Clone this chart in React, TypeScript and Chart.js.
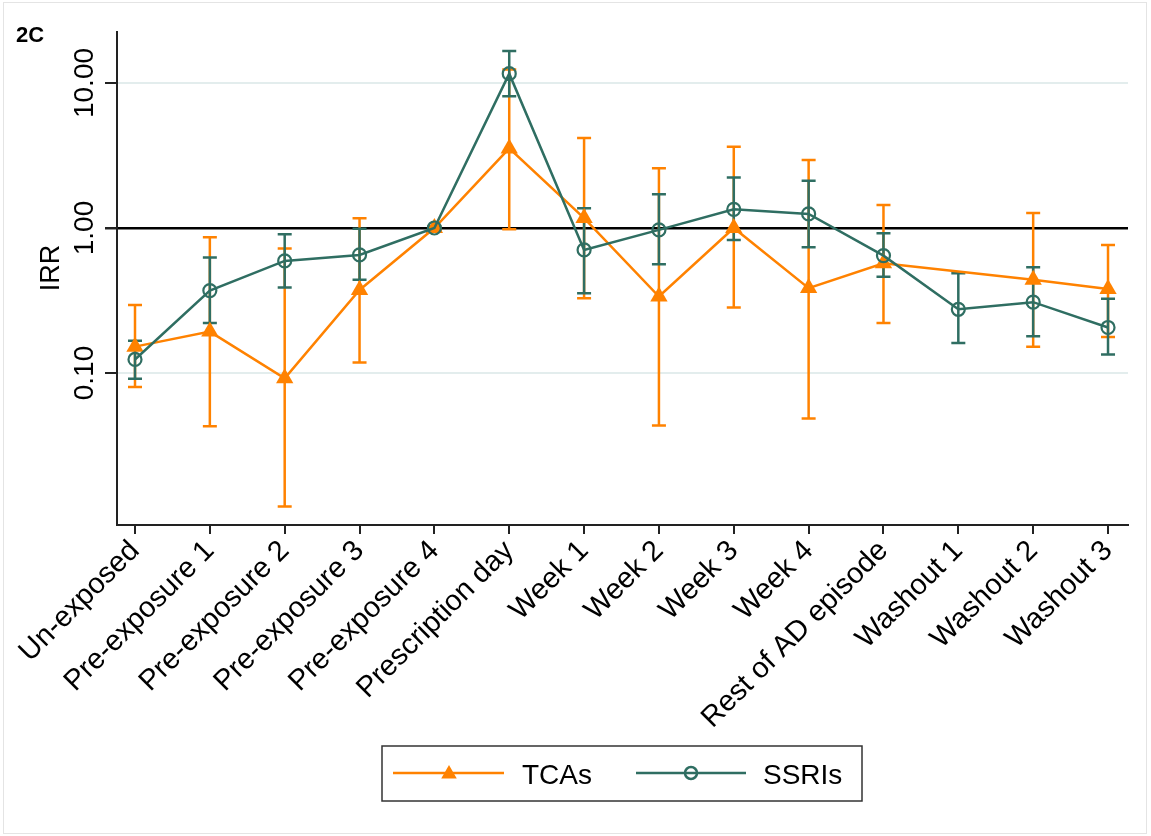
import React, { useEffect, useRef } from 'react';
import { Chart, registerables } from 'chart.js';

Chart.register(...registerables);

// ---- Data ----
const categories = [
  'Un-exposed',
  'Pre-exposure 1',
  'Pre-exposure 2',
  'Pre-exposure 3',
  'Pre-exposure 4',
  'Prescription day',
  'Week 1',
  'Week 2',
  'Week 3',
  'Week 4',
  'Rest of AD episode',
  'Washout 1',
  'Washout 2',
  'Washout 3',
];

const tcaIRR = [0.152, 0.193, 0.092, 0.374, 1.0, 3.54, 1.17, 0.337, 1.0, 0.385, 0.571, null, 0.439, 0.379];
const tcaLower = [0.080, 0.043, 0.012, 0.118, 0.97, 0.98, 0.328, 0.0434, 0.283, 0.0485, 0.221, null, 0.152, 0.177];
const tcaUpper = [0.295, 0.863, 0.721, 1.166, 1.03, 12.4, 4.18, 2.58, 3.63, 2.94, 1.44, null, 1.27, 0.764];

const ssriIRR = [0.124, 0.37, 0.593, 0.652, 1.0, 11.6, 0.706, 0.97, 1.345, 1.25, 0.645, 0.275, 0.308, 0.206];
const ssriLower = [0.0914, 0.221, 0.388, 0.439, 0.98, 8.1, 0.355, 0.563, 0.827, 0.736, 0.462, 0.161, 0.179, 0.134];
const ssriUpper = [0.167, 0.625, 0.905, 0.99, 1.02, 16.6, 1.37, 1.71, 2.23, 2.12, 0.919, 0.488, 0.537, 0.325];

const yTickValues = [0.1, 1, 10];
const yTickLabels = ['0.10', '1.00', '10.00'];

const seriesNames = ['TCAs', 'SSRIs'];
const panelLabel = '2C';
const yTitle = 'IRR';

const ORANGE = '#ff8200';
const TEAL = '#2f6e62';
const FONT = '"Liberation Sans", Arial, Helvetica, sans-serif';

function drawTriangle(ctx: CanvasRenderingContext2D, x: number, y: number, r: number) {
  ctx.beginPath();
  let rad = 0;
  ctx.moveTo(x + Math.sin(rad) * r, y - Math.cos(rad) * r);
  rad += (2 * Math.PI) / 3;
  ctx.lineTo(x + Math.sin(rad) * r, y - Math.cos(rad) * r);
  rad += (2 * Math.PI) / 3;
  ctx.lineTo(x + Math.sin(rad) * r, y - Math.cos(rad) * r);
  ctx.closePath();
  ctx.fill();
}

export default function App() {
  const ref = useRef<HTMLCanvasElement>(null);

  useEffect(() => {
    document.body.style.margin = '0';
    const canvas = ref.current;
    if (!canvas) return;

    const errorBars = {
      id: 'errorBars',
      beforeDatasetsDraw(chart: any) {
        const { ctx } = chart;
        const x = chart.scales.x;
        const y = chart.scales.y;
        const series = [
          { lo: tcaLower, hi: tcaUpper, color: ORANGE },
          { lo: ssriLower, hi: ssriUpper, color: TEAL },
        ];
        ctx.save();
        for (const s of series) {
          ctx.strokeStyle = s.color;
          ctx.lineWidth = 2.5;
          s.lo.forEach((lo: number | null, i: number) => {
            const hi = s.hi[i];
            if (lo == null || hi == null) return;
            const px = x.getPixelForValue(i);
            const y1 = y.getPixelForValue(lo);
            const y2 = y.getPixelForValue(hi);
            ctx.beginPath();
            ctx.moveTo(px, y1);
            ctx.lineTo(px, y2);
            ctx.moveTo(px - 7, y1);
            ctx.lineTo(px + 7, y1);
            ctx.moveTo(px - 7, y2);
            ctx.lineTo(px + 7, y2);
            ctx.stroke();
          });
        }
        ctx.restore();
      },
    };

    const decorations = {
      id: 'decorations',
      afterDraw(chart: any) {
        const { ctx } = chart;
        const y = chart.scales.y;
        ctx.save();
        // outer frame
        ctx.strokeStyle = '#e4e4e4';
        ctx.lineWidth = 1;
        ctx.strokeRect(3.5, 2.5, 1143, 831);

        // panel label
        ctx.fillStyle = '#000';
        ctx.font = `bold 22px ${FONT}`;
        ctx.textAlign = 'left';
        ctx.textBaseline = 'alphabetic';
        ctx.fillText(panelLabel, 16, 42);

        // y tick labels (rotated)
        ctx.font = `28px ${FONT}`;
        ctx.textAlign = 'center';
        yTickValues.forEach((v, i) => {
          const py = y.getPixelForValue(v);
          ctx.save();
          ctx.translate(93, py);
          ctx.rotate(-Math.PI / 2);
          ctx.fillText(yTickLabels[i], 0, 0);
          ctx.restore();
        });

        // y title
        ctx.font = `27px ${FONT}`;
        ctx.save();
        ctx.translate(59, 268);
        ctx.rotate(-Math.PI / 2);
        ctx.fillText(yTitle, 0, 0);
        ctx.restore();

        // legend
        ctx.strokeStyle = '#333';
        ctx.lineWidth = 1.5;
        ctx.strokeRect(382, 746, 480, 55);
        const ly = 773;
        ctx.lineWidth = 2.5;
        ctx.strokeStyle = ORANGE;
        ctx.beginPath();
        ctx.moveTo(393, ly);
        ctx.lineTo(504, ly);
        ctx.stroke();
        ctx.fillStyle = ORANGE;
        drawTriangle(ctx, 449, ly + 1, 9);
        ctx.strokeStyle = TEAL;
        ctx.beginPath();
        ctx.moveTo(636, ly);
        ctx.lineTo(746, ly);
        ctx.stroke();
        ctx.beginPath();
        ctx.arc(691, ly, 6, 0, Math.PI * 2);
        ctx.stroke();
        ctx.fillStyle = '#000';
        ctx.font = `28px ${FONT}`;
        ctx.textAlign = 'left';
        ctx.fillText(seriesNames[0], 522, 784);
        ctx.fillText(seriesNames[1], 763, 784);
        ctx.restore();
      },
    };

    const chart = new Chart(canvas, {
      type: 'line',
      data: {
        datasets: [
          {
            label: seriesNames[0],
            data: tcaIRR.map((v, i) => ({ x: i, y: v })) as any,
            borderColor: ORANGE,
            backgroundColor: ORANGE,
            borderWidth: 2.5,
            pointStyle: 'triangle',
            pointRadius: 10,
            pointBorderWidth: 0,
            pointBackgroundColor: ORANGE,
            spanGaps: true,
            order: 1,
          },
          {
            label: seriesNames[1],
            data: ssriIRR.map((v, i) => ({ x: i, y: v })) as any,
            borderColor: TEAL,
            backgroundColor: 'rgba(0,0,0,0)',
            borderWidth: 2.5,
            pointStyle: 'circle',
            pointRadius: 6.5,
            pointBorderWidth: 2.2,
            pointBorderColor: TEAL,
            pointBackgroundColor: 'rgba(0,0,0,0)',
            order: 0,
          },
        ],
      },
      options: {
        responsive: false,
        animation: false,
        devicePixelRatio: 1,
        layout: { padding: { left: 0, right: 23, top: 32, bottom: 0 } },
        plugins: {
          legend: { display: false },
          tooltip: { enabled: false },
          title: { display: false },
        },
        scales: {
          x: {
            type: 'linear',
            min: -0.2405,
            max: 13.267,
            afterBuildTicks: (s: any) => {
              s.ticks = categories.map((_, i) => ({ value: i }));
            },
            afterFit: (s: any) => {
              s.height = 311;
            },
            grid: {
              drawOnChartArea: false,
              drawTicks: true,
              tickLength: 9,
              tickColor: '#222',
              lineWidth: 2,
            },
            border: { display: true, color: '#222', width: 2 },
            ticks: {
              autoSkip: false,
              minRotation: 45,
              maxRotation: 45,
              padding: 0,
              color: '#000',
              font: { family: FONT, size: 29 },
              callback: (v: any) => categories[v as number] ?? '',
            },
          },
          y: {
            type: 'logarithmic',
            min: 0.00895,
            max: 22.47,
            afterBuildTicks: (s: any) => {
              s.ticks = yTickValues.map((v) => ({ value: v }));
            },
            afterFit: (s: any) => {
              s.width = 117;
            },
            grid: {
              color: (c: any) => (c.tick && c.tick.value === 1 ? '#000' : '#e3eded'),
              lineWidth: (c: any) => (c.tick && c.tick.value === 1 ? 2.5 : 2),
              drawTicks: true,
              tickLength: 12,
              tickColor: '#222',
            },
            border: { display: true, color: '#222', width: 2 },
            ticks: { display: false },
          },
        },
      } as any,
      plugins: [errorBars, decorations],
    });

    return () => chart.destroy();
  }, []);

  return (
    <div style={{ position: 'fixed', left: 0, top: 0, width: 1151, height: 836, background: '#fff' }}>
      <canvas ref={ref} width={1151} height={836} style={{ display: 'block' }} />
    </div>
  );
}
